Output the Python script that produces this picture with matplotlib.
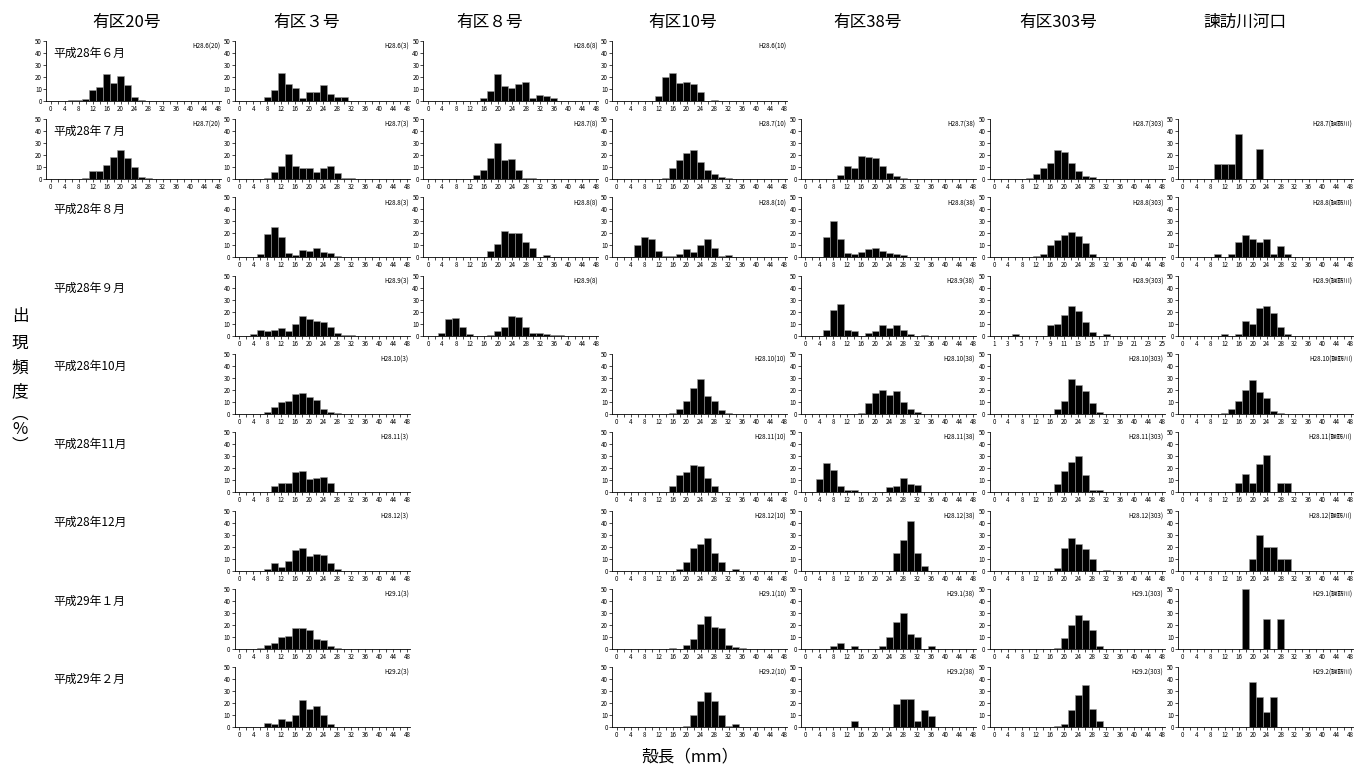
import matplotlib
matplotlib.use('Agg')
import matplotlib.pyplot as plt

plt.rcParams['font.family'] = ['Noto Sans CJK JP', 'DejaVu Sans']

# 殻長階級 (mm), 2mm刻み
sizes = list(range(0, 50, 2))
months = ['H28.6', 'H28.7', 'H28.8', 'H28.9', 'H28.10', 'H28.11', 'H28.12', 'H29.1', 'H29.2']
row_labels = ['平成28年６月', '平成28年７月', '平成28年８月', '平成28年９月', '平成28年10月',
              '平成28年11月', '平成28年12月', '平成29年１月', '平成29年２月']
stations = ['有区20号', '有区３号', '有区８号', '有区10号', '有区38号', '有区303号', '諫訪川河口']
codes = ['20', '3', '8', '10', '38', '303', '諫訪川']

freq_20 = {
    'H28.6': [0, 0, 0, 0.5, 1, 1.5, 9, 11.5, 22, 15, 20.5, 13.5, 3, 1, 0, 0, 0, 0, 0, 0, 0, 0, 0, 0, 0],
    'H28.7': [0, 0, 0, 0, 0, 1, 6.5, 6.5, 12, 18.5, 24, 17.5, 10, 1.5, 0.5, 0, 0, 0, 0, 0, 0, 0, 0, 0, 0],
}
freq_3 = {
    'H28.6': [0, 0, 0, 0, 3, 9, 23, 14, 11, 2, 7, 7, 13, 5.5, 3, 3, 0, 0, 0, 0, 0, 0, 0, 0, 0],
    'H28.7': [0, 0, 0, 0, 1, 5.5, 11, 20.5, 11, 9.5, 9, 5.5, 9.5, 10.5, 5, 1, 1, 0, 0, 0, 0, 0, 0, 0, 0],
    'H28.8': [0, 0, 0, 3, 19.5, 25.5, 16.5, 3.5, 2, 6, 5, 8, 4.5, 3.5, 1, 0, 0, 0, 0, 0, 0, 0, 0, 0, 0],
    'H28.9': [0, 0, 1.5, 4.5, 3.5, 5, 6, 3.5, 10, 16, 13.5, 12.5, 11.5, 7, 2.5, 0.5, 0.5, 0, 0, 0, 0, 0, 0, 0, 0],
    'H28.10': [0, 0, 0, 0, 2, 5.5, 10, 11, 17, 17.5, 14.5, 11.5, 4, 2, 1, 0, 0, 0, 0, 0, 0, 0, 0, 0, 0],
    'H28.11': [0, 0, 0, 0, 0, 5.5, 7.5, 7.5, 17, 17.5, 11, 12, 12.5, 7.5, 0.5, 0.5, 0, 0, 0, 0, 0, 0, 0, 0, 0],
    'H28.12': [0, 0, 0, 0, 1, 6.5, 3, 8, 17, 18.5, 12, 14, 13, 6.5, 1, 0, 0, 0, 0, 0, 0, 0, 0, 0, 0],
    'H29.1': [0, 0, 0, 1, 3.5, 4.5, 9.5, 10.5, 17.5, 17.5, 16, 8.5, 7.5, 2.5, 1, 0, 0, 0, 0, 0, 0, 0, 0, 0, 0],
    'H29.2': [0, 0, 0, 0.5, 3.5, 3, 6.5, 5, 10.5, 23, 15.5, 18, 10, 3, 0, 0, 0, 0, 0, 0, 0, 0, 0, 0, 0],
}
freq_8 = {
    'H28.6': [0, 0, 0, 0, 0, 0, 0, 0, 2, 8, 22.5, 12, 11, 14, 16, 2, 5, 4, 2, 0, 0, 0, 0, 0, 0],
    'H28.7': [0, 0, 0, 0, 0, 0, 0, 3, 7.5, 17.5, 30, 15.5, 17, 7.5, 1, 0.5, 0, 0, 0, 0, 0, 0, 0, 0, 0],
    'H28.8': [0, 0, 0, 0, 0, 0, 0, 0, 0, 5, 11, 21.5, 20.5, 20, 12.5, 8, 0, 1.5, 0, 0, 0, 0, 0, 0, 0],
    'H28.9': [0, 0, 2, 13.5, 15, 7.5, 1, 0, 0, 0.5, 3.5, 7, 16.5, 15.5, 7.5, 2.5, 2.5, 1, 0.5, 0.5, 0, 0, 0, 0, 0],
}
freq_10 = {
    'H28.6': [0, 0, 0, 0, 0, 0, 4, 20, 23, 15, 16, 14, 7, 0, 1, 0, 0, 0, 0, 0, 0, 0, 0, 0, 0],
    'H28.7': [0, 0, 0, 0, 0, 0, 0, 1, 9, 16, 21.5, 24, 14.5, 7.5, 4, 2, 0.5, 0, 0, 0, 0, 0, 0, 0, 0],
    'H28.8': [0, 0, 0, 10.5, 16.5, 15.5, 5, 1, 1, 3, 7, 4, 10.5, 15.5, 8, 1, 2, 0, 0, 0, 0, 0, 0, 0, 0],
    'H28.10': [0, 0, 0, 0, 0, 0, 0, 0, 1, 4.5, 10.5, 21.5, 29.5, 15, 10.5, 3.5, 0.5, 0, 0, 0, 0, 0, 0, 0, 0],
    'H28.11': [0, 0, 0, 0.5, 0, 0, 0, 0, 5.5, 14.5, 17, 23, 21.5, 11.5, 5, 0, 0, 0, 0, 0, 0, 0, 0, 0, 0],
    'H28.12': [0, 0, 0, 0, 0, 0, 0, 0, 0, 1, 7.5, 18.5, 22.5, 27.5, 14.5, 7.5, 0, 1, 0, 0, 0, 0, 0, 0, 0],
    'H29.1': [0, 0, 0, 0, 0, 0, 0, 0, 0.5, 0, 3, 8.5, 20.5, 27.5, 18, 17, 3, 1.5, 0.5, 0, 0, 0, 0, 0, 0],
    'H29.2': [0, 0, 0, 0, 0, 0, 0, 0, 0, 0, 1, 10, 22, 29.5, 22, 10.5, 1, 2.5, 0, 0, 0, 0, 0, 0, 0],
}
freq_38 = {
    'H28.7': [0, 0, 0, 0, 0, 3.5, 10.5, 9.5, 19.5, 18.5, 17.5, 11, 5, 2.5, 0.5, 0, 0, 0, 0, 0, 0, 0, 0, 0, 0],
    'H28.8': [0, 0, 0, 16.5, 30.5, 15.5, 3.5, 2.5, 4.5, 6.5, 8, 5.5, 3.5, 2.5, 1.5, 0, 0, 0, 0, 0, 0, 0, 0, 0, 0],
    'H28.9': [0, 0, 0, 5, 21.5, 26, 4.5, 3.5, 0, 2, 4, 8.5, 6.5, 9, 5, 1, 0, 0.5, 0, 0, 0, 0, 0, 0, 0],
    'H28.10': [0, 0, 0, 0, 0, 0, 0, 0, 1, 9, 17.5, 20, 16, 19, 10, 4.5, 1.5, 0, 0, 0, 0, 0, 0, 0, 0],
    'H28.11': [0, 0, 11, 24.5, 18.5, 5.5, 1.5, 1.5, 0, 0, 0.5, 0.5, 4, 5.5, 12, 7, 6, 0.5, 0, 0, 0, 0, 0, 0, 0],
    'H28.12': [0, 0, 0, 0, 0, 0, 0, 0, 0, 0, 0, 0, 0, 15, 25.5, 41, 15, 4, 0, 0, 0, 0, 0, 0, 0],
    'H29.1': [0, 0, 0, 0, 2.5, 5, 0, 2.5, 0, 0, 0, 2.5, 10, 22.5, 30, 12.5, 10, 0, 2.5, 0, 0, 0, 0, 0, 0],
    'H29.2': [0, 0, 0, 0, 0, 0, 0, 4.8, 0, 0, 0, 0, 0, 19, 23.8, 23.8, 4.8, 14.3, 9.5, 0, 0, 0, 0, 0, 0],
}
freq_303 = {
    'H28.7': [0, 0, 0, 0, 0, 1, 4.5, 9, 13.5, 24.5, 22.5, 13, 7, 2.5, 1.5, 0, 0, 0, 0, 0, 0, 0, 0, 0, 0],
    'H28.8': [0, 0, 0, 0, 0, 0, 1, 2.5, 10.5, 14.5, 18.5, 21, 17.5, 11.5, 2.5, 0, 0, 0, 0, 0, 0, 0, 0, 0, 0],
    'H28.9': [0, 0, 0, 1.5, 0, 0, 0, 0, 8.5, 10, 17.5, 25, 20.5, 11.5, 3, 0, 1.5, 0, 0, 0, 0, 0, 0, 0, 0],
    'H28.10': [0, 0, 0, 0, 0, 0, 0, 0, 0, 4, 11, 29, 24, 19, 9.5, 2, 0, 0, 0, 0, 0, 0, 0, 0, 0],
    'H28.11': [0, 0, 0, 0, 0, 0, 0, 0, 0.5, 7, 18, 25, 30, 14, 2, 2, 0, 0, 0, 0, 0, 0, 0, 0, 0],
    'H28.12': [0, 0, 0, 0, 0, 0, 0, 0, 0, 2.5, 19, 27, 22, 18, 10, 0, 0.5, 0, 0, 0, 0, 0, 0, 0, 0],
    'H29.1': [0, 0, 0, 0, 0, 0, 0, 0, 0, 1, 9, 19.5, 28.5, 24, 15.5, 2.5, 0, 0, 0, 0, 0, 0, 0, 0, 0],
    'H29.2': [0, 0, 0, 0, 0, 0, 0, 0, 0, 1, 3, 14, 26.5, 35, 15, 5.5, 0, 0, 0, 0, 0, 0, 0, 0, 0],
}
freq_isahaya = {
    'H28.7': [0, 0, 0, 0, 0, 12.5, 12.5, 12.5, 37.5, 0, 0, 25, 0, 0, 0, 0, 0, 0, 0, 0, 0, 0, 0, 0, 0],
    'H28.8': [0, 0, 0, 0, 0, 3.1, 0, 3.1, 12.5, 18.8, 15.6, 12.5, 15.6, 3.1, 9.4, 3.1, 0, 0, 0, 0, 0, 0, 0, 0, 0],
    'H28.9': [0, 0, 0, 0, 0, 0, 1.5, 0, 1.5, 12.5, 10, 23, 24.5, 18.5, 7, 1.5, 0, 0, 0, 0, 0, 0, 0, 0, 0],
    'H28.10': [0, 0, 0, 0, 0, 0, 1, 4, 10.5, 20, 28, 18, 13, 2.5, 0.5, 0, 0, 0, 0, 0, 0, 0, 0, 0, 0],
    'H28.11': [0, 0, 0, 0, 0, 0, 0, 0, 7.7, 15.4, 7.7, 23.1, 30.8, 0, 7.7, 7.7, 0, 0, 0, 0, 0, 0, 0, 0, 0],
    'H28.12': [0, 0, 0, 0, 0, 0, 0, 0, 0, 0, 10, 30, 20, 20, 10, 10, 0, 0, 0, 0, 0, 0, 0, 0, 0],
    'H29.1': [0, 0, 0, 0, 0, 0, 0, 0, 0, 50, 0, 0, 25, 0, 25, 0, 0, 0, 0, 0, 0, 0, 0, 0, 0],
    'H29.2': [0, 0, 0, 0, 0, 0, 0, 0, 0, 0, 37.5, 25, 12.5, 25, 0, 0, 0, 0, 0, 0, 0, 0, 0, 0, 0],
}
all_freq = [freq_20, freq_3, freq_8, freq_10, freq_38, freq_303, freq_isahaya]

W, H = 1357, 767
fig = plt.figure(figsize=(W / 100, H / 100), dpi=100)

title_x = [127, 307, 490, 683, 868, 1058, 1245]
for c, name in enumerate(stations):
    fig.text(title_x[c] / W, 1 - 22 / H, name, ha='center', va='center', fontsize=12)

for c, freq in enumerate(all_freq):
    left = 46 + 188.7 * c
    for r, m in enumerate(months):
        if m not in freq:
            continue
        base = 100.7 + 78.3 * r
        ax = fig.add_axes([left / W, (H - base) / H, 175 / W, 60 / H])
        ax.bar(sizes, freq[m], width=2, color='black', edgecolor='#9a9a9a', linewidth=0.4)
        ax.set_xlim(-1.3, 48.7)
        ax.set_ylim(0, 50)
        ax.spines['top'].set_visible(False)
        ax.spines['right'].set_visible(False)
        for s in ['left', 'bottom']:
            ax.spines[s].set_linewidth(0.6)
        ax.set_xticks(sizes)
        if codes[c] == '303' and m == 'H28.9':
            # この図だけ横軸が階級番号になっている
            xl = [str(i + 1) if i % 2 == 0 else '' for i in range(len(sizes))]
        else:
            xl = [str(s) if s % 4 == 0 else '' for s in sizes]
        ax.set_xticklabels(xl)
        ax.set_yticks(range(0, 51, 10))
        ax.tick_params(labelsize=4.5, length=2, width=0.5, pad=1)
        ax.text(0.995, 0.97, f'{m}({codes[c]})', transform=ax.transAxes,
                ha='right', va='top', fontsize=4.5)

for r, lab in enumerate(row_labels):
    fig.text(53 / W, 1 - (53 + 78.3 * r) / H, lab, ha='left', va='center', fontsize=8.5)

# 縦書きの軸ラベル
ylab_chars = ['出', '現', '頻', '度', '︵', '%', '︶']
ylab_y = [316, 343, 368, 392, 414, 430, 446]
for ch, yy in zip(ylab_chars, ylab_y):
    fig.text(20 / W, 1 - yy / H, ch, ha='center', va='center', fontsize=12)

fig.text(690 / W, 1 - 757 / H, '殻長（mm）', ha='center', va='center', fontsize=12)

fig.savefig('out.png', dpi=100)
